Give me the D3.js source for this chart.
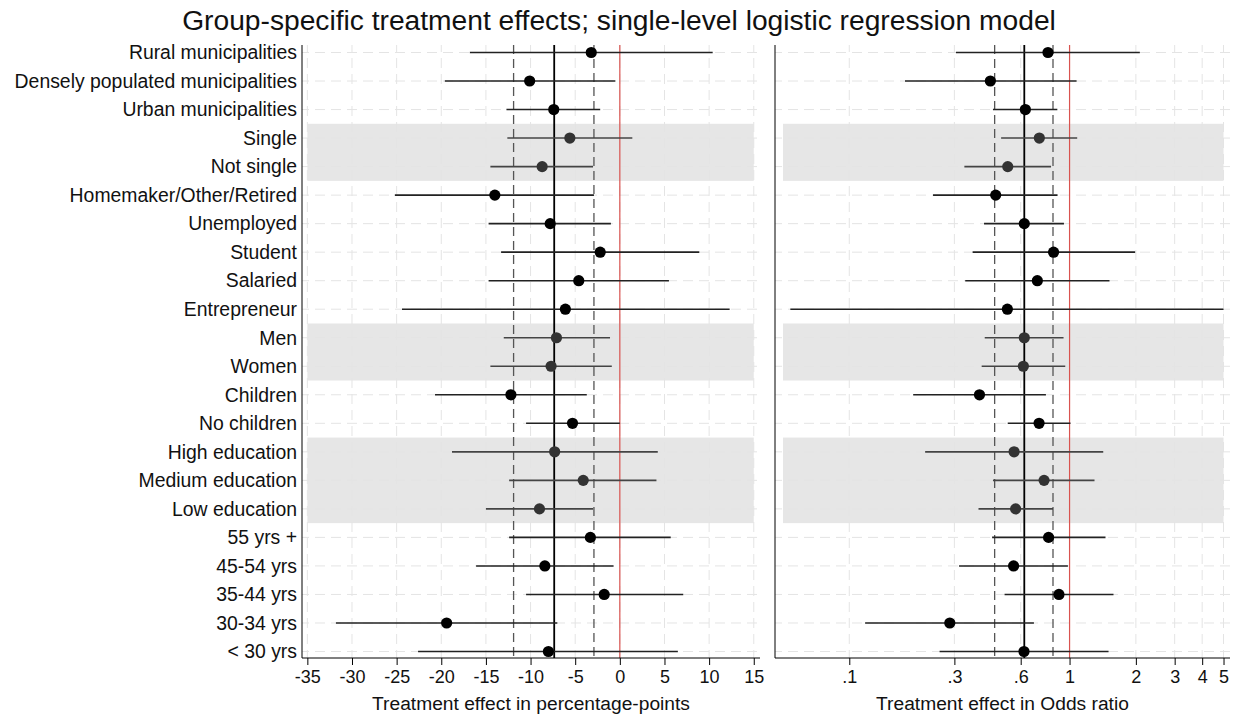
<!DOCTYPE html>
<html>
<head>
<meta charset="utf-8">
<script src="https://cdn.jsdelivr.net/npm/d3@7"></script>
<style>
  body { margin: 0; background: #fff; }
  svg { font-family: "Liberation Sans", Arial, sans-serif; }
  .grid line { stroke: #e4e4e4; stroke-width: 1; }
</style>
</head>
<body>
<svg id="chart" width="1238" height="717"></svg>
<script>
// row labels, top to bottom
var groups = ["Rural municipalities", "Densely populated municipalities", "Urban municipalities",
  "Single", "Not single", "Homemaker/Other/Retired", "Unemployed", "Student", "Salaried",
  "Entrepreneur", "Men", "Women", "Children", "No children", "High education",
  "Medium education", "Low education", "55 yrs +", "45-54 yrs", "35-44 yrs", "30-34 yrs", "< 30 yrs"]

// treatment effect, percentage points
var ppEst = [-3.2, -10.1, -7.4, -5.6, -8.7, -14.0, -7.8, -2.2, -4.6, -6.1, -7.1, -7.7,
  -12.2, -5.3, -7.3, -4.1, -9.0, -3.3, -8.4, -1.75, -19.4, -8.0]
var ppLo = [-16.8, -19.6, -12.7, -12.6, -14.5, -25.2, -14.7, -13.3, -14.7, -24.4, -13.0, -14.5,
  -20.7, -10.5, -18.8, -12.4, -15.0, -12.4, -16.1, -10.5, -31.8, -22.6]
var ppHi = [10.4, -0.5, -2.2, 1.4, -3.0, -2.9, -1.0, 8.9, 5.5, 12.3, -1.1, -0.9,
  -3.7, 0.0, 4.25, 4.1, -3.0, 5.7, -0.7, 7.1, -7.0, 6.5]

// treatment effect, odds ratio
var orEst = [0.798, 0.437, 0.630, 0.729, 0.524, 0.462, 0.623, 0.846, 0.714, 0.522, 0.623, 0.617,
  0.390, 0.727, 0.560, 0.766, 0.569, 0.803, 0.557, 0.895, 0.286, 0.621]
var orLo = [0.305, 0.179, 0.449, 0.489, 0.333, 0.240, 0.409, 0.363, 0.336, 0.054, 0.412, 0.399,
  0.195, 0.524, 0.221, 0.449, 0.386, 0.445, 0.315, 0.507, 0.118, 0.257]
var orHi = [2.085, 1.076, 0.880, 1.083, 0.824, 0.882, 0.943, 1.985, 1.518, 5.0, 0.939, 0.956,
  0.781, 1.010, 1.422, 1.298, 0.841, 1.456, 0.983, 1.583, 0.689, 1.503]

// shaded blocks (first and last label)
var shaded = [["Single", "Not single"], ["Men", "Women"], ["High education", "Low education"]]

// overall effect and its interval
var ppOverall = [-7.35, -11.9, -2.9]
var orOverall = [0.623, 0.457, 0.841]

var ppTicks = [-35, -30, -25, -20, -15, -10, -5, 0, 5, 10, 15]
var orTicks = [0.1, 0.3, 0.6, 1, 2, 3, 4, 5]
var orTickLabels = [".1", ".3", ".6", "1", "2", "3", "4", "5"]

let svg = d3.select("#chart")
let plotTop = 45, plotBottom = 658

let y = d3.scalePoint()
      .domain(groups)
      .range([52.5, 651.5])
let step = y.step()

// title
svg.append("text")
  .attr("x", 619).attr("y", 30)
  .attr("text-anchor", "middle")
  .style("font-size", "28.2px")
  .attr("fill", "#111")
  .text("Group-specific treatment effects; single-level logistic regression model")

// row labels
svg.append("g").selectAll("text")
  .data(groups)
  .enter().append("text")
  .attr("x", 297)
  .attr("y", d => y(d))
  .attr("dy", "0.35em")
  .attr("text-anchor", "end")
  .style("font-size", "19.4px")
  .attr("fill", "#111")
  .text(d => d)

function panel(opts) {
  let x = opts.x
  let g = svg.append("g")
  let x0 = x.range()[0], x1 = x.range()[1]

  // shaded blocks
  g.selectAll(".band")
    .data(shaded)
    .enter().append("rect")
    .attr("x", x(opts.bandExt[0]))
    .attr("width", x(opts.bandExt[1]) - x(opts.bandExt[0]))
    .attr("y", d => y(d[0]) - step / 2)
    .attr("height", d => y(d[1]) - y(d[0]) + step)
    .attr("fill", "#e6e6e6")

  // grid
  let grid = g.append("g").attr("class", "grid")
  grid.selectAll(".gh")
    .data(groups)
    .enter().append("line")
    .attr("x1", x0).attr("x2", x1)
    .attr("y1", d => y(d)).attr("y2", d => y(d))
    .attr("stroke-dasharray", "10,6")
    .attr("stroke-dashoffset", 3)
  grid.selectAll(".gv")
    .data(opts.ticks)
    .enter().append("line")
    .attr("x1", d => x(d)).attr("x2", d => x(d))
    .attr("y1", plotTop).attr("y2", plotBottom)
    .attr("stroke-dasharray", "10,6")
    .attr("stroke-dashoffset", 3)

  // overall effect lines
  g.append("line")
    .attr("x1", x(opts.zero)).attr("x2", x(opts.zero))
    .attr("y1", plotTop).attr("y2", plotBottom)
    .attr("stroke", "#d9534f").attr("stroke-width", 1.2)
  g.selectAll(".ci")
    .data(opts.overall.slice(1))
    .enter().append("line")
    .attr("x1", d => x(d)).attr("x2", d => x(d))
    .attr("y1", plotTop).attr("y2", plotBottom)
    .attr("stroke", "#555").attr("stroke-width", 1.3)
    .attr("stroke-dasharray", "9,5")
  g.append("line")
    .attr("x1", x(opts.overall[0])).attr("x2", x(opts.overall[0]))
    .attr("y1", plotTop).attr("y2", plotBottom)
    .attr("stroke", "#000").attr("stroke-width", 1.8)

  let inBand = function(i) {
    return shaded.some(s => i >= groups.indexOf(s[0]) && i <= groups.indexOf(s[1]))
  }

  // whiskers
  g.selectAll(".whisker")
    .data(groups)
    .enter().append("line")
    .attr("x1", (d, i) => x(opts.lo[i]))
    .attr("x2", (d, i) => x(opts.hi[i]))
    .attr("y1", d => y(d)).attr("y2", d => y(d))
    .attr("stroke", (d, i) => inBand(i) ? "#444" : "#222")
    .attr("stroke-width", 1.6)

  // point estimates
  g.selectAll(".dot")
    .data(groups)
    .enter().append("circle")
    .attr("cx", (d, i) => x(opts.est[i]))
    .attr("cy", d => y(d))
    .attr("r", 5.6)
    .attr("fill", (d, i) => inBand(i) ? "#333" : "#000")

  // axes
  g.append("line")
    .attr("x1", x0).attr("x2", x0)
    .attr("y1", plotTop).attr("y2", plotBottom)
    .attr("stroke", "#000")
  let ax = g.append("g")
    .attr("transform", "translate(0," + plotBottom + ")")
    .call(d3.axisBottom(x)
      .tickValues(opts.ticks)
      .tickFormat((d, i) => opts.tickLabels[i])
      .tickSize(7)
      .tickPadding(5))
  ax.select(".domain").attr("d", "M" + x0 + ",0H" + x1)
  ax.selectAll("text")
    .style("font-size", "18px")
    .style("font-family", "Liberation Sans, Arial, sans-serif")
    .attr("fill", "#111")

  svg.append("text")
    .attr("x", (x0 + x1) / 2).attr("y", 710)
    .attr("text-anchor", "middle")
    .style("font-size", "19.2px")
    .attr("fill", "#111")
    .text(opts.title)
}

panel({
  x: d3.scaleLinear().domain([-35.6, 15.7]).range([302, 760]),
  bandExt: [-35, 15],
  ticks: ppTicks,
  tickLabels: ppTicks.map(String),
  zero: 0,
  overall: ppOverall,
  est: ppEst, lo: ppLo, hi: ppHi,
  title: "Treatment effect in percentage-points"
})

panel({
  x: d3.scaleLog().domain([0.046, 5.35]).range([775, 1230]),
  bandExt: [0.05, 5],
  ticks: orTicks,
  tickLabels: orTickLabels,
  zero: 1,
  overall: orOverall,
  est: orEst, lo: orLo, hi: orHi,
  title: "Treatment effect in Odds ratio"
})
</script>
</body>
</html>
